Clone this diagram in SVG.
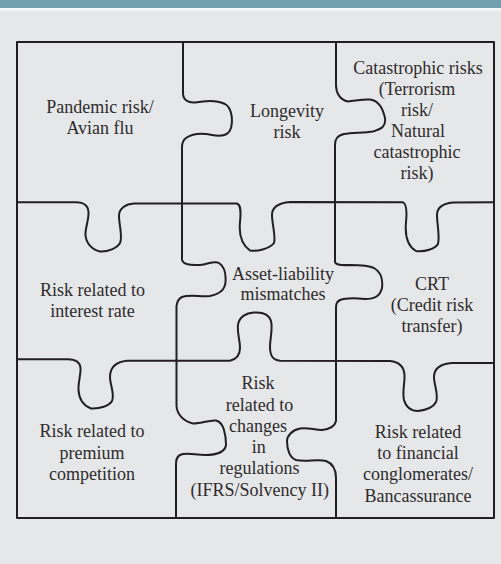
<svg xmlns="http://www.w3.org/2000/svg" width="501" height="564" viewBox="0 0 501 564">
<style>
.cut{fill:none;stroke:#231f20;stroke-width:2;stroke-linejoin:round;stroke-linecap:round}
.lbl{font-family:"Liberation Serif","Times New Roman",serif;font-size:18px;fill:#2e2c2d;text-anchor:middle}
</style>
<rect x="0" y="0" width="501" height="564" fill="#e6e7e8"/>
<rect x="0" y="0" width="501" height="8" fill="#729fae"/>
<rect x="0" y="8" width="501" height="2.5" fill="#f7f8f8"/>
<g id="frame">
<rect class="cut" x="17" y="42" width="477" height="476"/>
</g>
<g id="connectors">
<path class="cut" d="M183,42 L183,93 C183,100 188,103 195,102.5 C203,101 215,99 225,104 C232,108 233,120 231,128 C229,135 222,137 212,135 C202,133 192,134 186,138 C182,141 182,144 182,147 L182,260 C183,264 190,265.5 200,265 C208,264.5 214,260 219,263 C225,267 226,275 225.5,282 C225,290 220,294 210,296 C200,297 190,294 182,297 C178,299 177,302 176.5,306 L176.5,406 C177,414 183,421 193,423.5 C200,424 208,420 216,420.5 C224,422 226,436 226,445 C225,452 218,455 205,455 C195,455 186,452 180,455 C176,457 176,461 176,465 L176,518"/>
<path class="cut" d="M336,42 L336,85 C336,93 340,100 348,101.5 C355,101 362,99 370,99.5 C380,101 383,110 385,118 C386,126 382,129 373,131.5 C364,133 352,132.5 344,134 C337,136 335,139 335,145 L335,262 C336,265 340,265.5 350,265 C360,265 368,265 374,268 C381,272 383,280 382,288 C380,296 375,299 365,299 C355,298 345,298 340,300 C336,302 336,305 336,309 L336,421 C335,426 330,429 322,430 C314,430 308,427 300,428.5 C292,430 287,436 287,441 C287,450 290,458 296,460 C305,462 318,459 326,461 C334,464 336,470 336,478 L336,518"/>
<path class="cut" d="M17,202.3 L76,202.3 C84,202.5 88,205 88.5,212 C89,220 85,228 85.5,235 C86,243 92,250 100,251.5 C108,252 117,248 120,243 C123,237 119,225 119,216 C119,208 126,204 134,203.5 L237,203.5 C241,205 241,212 240,222 C239,232 241,244 250,250.5 C258,252 270,248 274,243 C276,236 272,224 272,215 C272,207 279,203 290,202 L403,202.3 C407,204 407,212 406,222 C405,233 406,245 416,251 C425,252 435,249 438,244 C440,236 437,224 437,215 C437,208 443,203.5 453,202.5 L494,202.3"/>
<path class="cut" d="M17,359.3 L68,359.3 C76,359.5 80,362 80.5,368 C81,375 78,382 78.5,390 C79,398 82,405 91,408.5 C100,409 109,406 112,401 C115,394 110,385 110,377 C110,368 115,362 127,360.7 L230,360.7 C237,359 240,355 240,348 C240,340 237,333 238,325 C239,317 246,313 254,312.5 C262,312 269,314 271,321 C273,329 270,338 270,347 C270,355 272,360 280,360.7 L390,361 C400,362 404,367 404.5,375 C405,383 402,392 404,400 C406,407 411,411 418,411 C426,410 433,408 436,402 C439,395 434,385 434,377 C434,369 440,364 452,363 L494,363"/>
</g>
<g id="pandemic">
<text class="lbl" x="100" y="112.7">Pandemic risk/</text>
<text class="lbl" x="100" y="134">Avian flu</text>
</g>
<g id="longevity">
<text class="lbl" x="287" y="117.3">Longevity</text>
<text class="lbl" x="287" y="138">risk</text>
</g>
<g id="catastrophic">
<text class="lbl" x="418" y="74.3">Catastrophic risks</text>
<text class="lbl" x="417" y="95.2">(Terrorism</text>
<text class="lbl" x="417" y="116">risk/</text>
<text class="lbl" x="418" y="137">Natural</text>
<text class="lbl" x="417" y="158">catastrophic</text>
<text class="lbl" x="417" y="178.5">risk)</text>
</g>
<g id="interest">
<text class="lbl" x="92.5" y="296">Risk related to</text>
<text class="lbl" x="92.5" y="317.3">interest rate</text>
</g>
<g id="alm">
<text class="lbl" x="283" y="279.5">Asset-liability</text>
<text class="lbl" x="283" y="300.3">mismatches</text>
</g>
<g id="crt">
<text class="lbl" x="432" y="290">CRT</text>
<text class="lbl" x="432" y="311">(Credit risk</text>
<text class="lbl" x="432" y="331.7">transfer)</text>
</g>
<g id="premium">
<text class="lbl" x="92" y="437.3">Risk related to</text>
<text class="lbl" x="92" y="459">premium</text>
<text class="lbl" x="92" y="480">competition</text>
</g>
<g id="regulations">
<text class="lbl" x="258" y="389.3">Risk</text>
<text class="lbl" x="259.5" y="410.7">related to</text>
<text class="lbl" x="258" y="431.7">changes</text>
<text class="lbl" x="258.7" y="452.5">in</text>
<text class="lbl" x="259.5" y="474">regulations</text>
<text class="lbl" x="259.8" y="495.5">(IFRS/Solvency II)</text>
</g>
<g id="financial">
<text class="lbl" x="418" y="438.3">Risk related</text>
<text class="lbl" x="418" y="459.3">to financial</text>
<text class="lbl" x="418" y="480.2">conglomerates/</text>
<text class="lbl" x="418" y="501.5">Bancassurance</text>
</g>
</svg>
